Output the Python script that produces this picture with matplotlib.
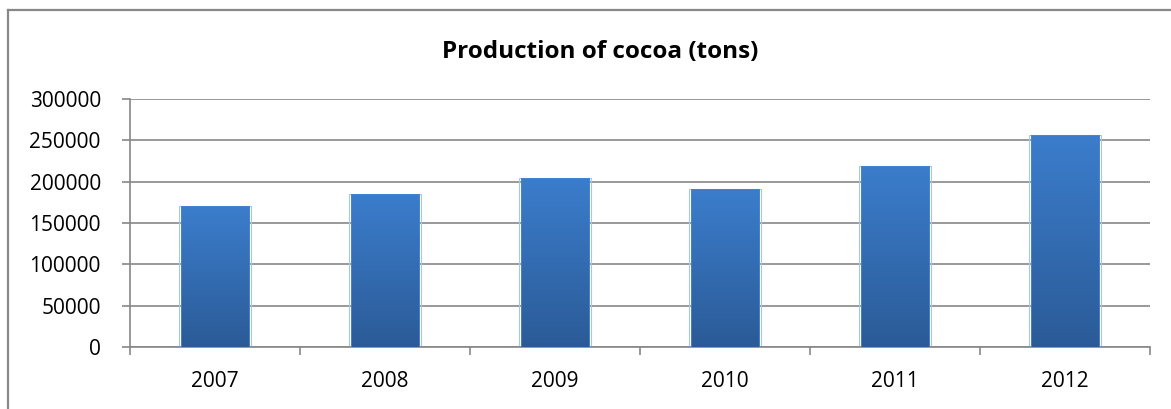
import matplotlib
matplotlib.use("Agg")
import matplotlib.pyplot as plt
import numpy as np
from matplotlib.lines import Line2D
from matplotlib.colors import LinearSegmentedColormap

years = ["2007", "2008", "2009", "2010", "2011", "2012"]
production = [170000, 185000, 205000, 191000, 219000, 256000]
yticks = [0, 50000, 100000, 150000, 200000, 250000, 300000]
title = "Production of cocoa (tons)"

plt.rcParams['font.family'] = ['Open Sans', 'DejaVu Sans']

W, H = 1171, 409
fig = plt.figure(figsize=(W / 100, H / 100), dpi=100)
fig.patch.set_facecolor('white')

ax = fig.add_axes([130 / W, (H - 347) / H, 1020 / W, 248 / H])
ax.set_facecolor('white')

grid_c = '#878787'
x = np.arange(len(years))
bw = 0.405
bars = ax.bar(x, production, width=bw, color='none', edgecolor='none', zorder=3)

grad = np.linspace(0, 1, 256).reshape(-1, 1)
cmap = LinearSegmentedColormap.from_list('g', ['#2b5b97', '#3b7dcc'])
for b in bars:
    x0, y0 = b.get_x(), b.get_y()
    w, h = b.get_width(), b.get_height()
    im = ax.imshow(grad, extent=(x0, x0 + w, y0, y0 + h), origin='lower',
                   cmap=cmap, aspect='auto', zorder=3, interpolation='bilinear')
    im.set_clip_path(b)
    ax.add_patch(plt.Rectangle((x0 - 0.012, y0), w + 0.024, h, fill=False,
                               edgecolor='#a9c6ea', lw=0.8, zorder=2))
    ax.add_patch(plt.Rectangle((x0, y0), w, h, fill=False,
                               edgecolor='#4a86d0', lw=0.6, zorder=4))

ax.set_xlim(-0.5, len(years) - 0.5)
ax.set_ylim(0, 300000)
ax.set_yticks(yticks)
ax.set_yticklabels([str(v) for v in yticks])
ax.yaxis.grid(True, color=grid_c, lw=1.2, zorder=1)
ax.set_axisbelow(True)

ax.set_xticks(x)
ax.set_xticklabels(years)
ax.set_xticks(np.arange(-0.5, len(years), 1.0), minor=True)
ax.tick_params(axis='x', which='major', length=0, pad=17, labelsize=15, labelcolor='black')
ax.tick_params(axis='x', which='minor', length=6, width=1.2, color=grid_c, direction='out')
ax.tick_params(axis='y', length=6, width=1.2, color=grid_c, direction='out', pad=15,
               labelsize=15, labelcolor='black')

for s in ['top', 'right']:
    ax.spines[s].set_visible(False)
for s in ['left', 'bottom']:
    ax.spines[s].set_color(grid_c)
    ax.spines[s].set_linewidth(1.2)

fig.text(600 / W, 1 - 52 / H, title, ha='center', va='center', fontsize=17.5,
         fontweight='bold', color='black')

fig.add_artist(Line2D([8 / W, 8 / W], [0, 1 - 9.5 / H], transform=fig.transFigure,
                      color='#888888', lw=1.6))
fig.add_artist(Line2D([8 / W, 1], [1 - 9.5 / H, 1 - 9.5 / H], transform=fig.transFigure,
                      color='#888888', lw=1.6))

fig.savefig('out.png', dpi=100)
